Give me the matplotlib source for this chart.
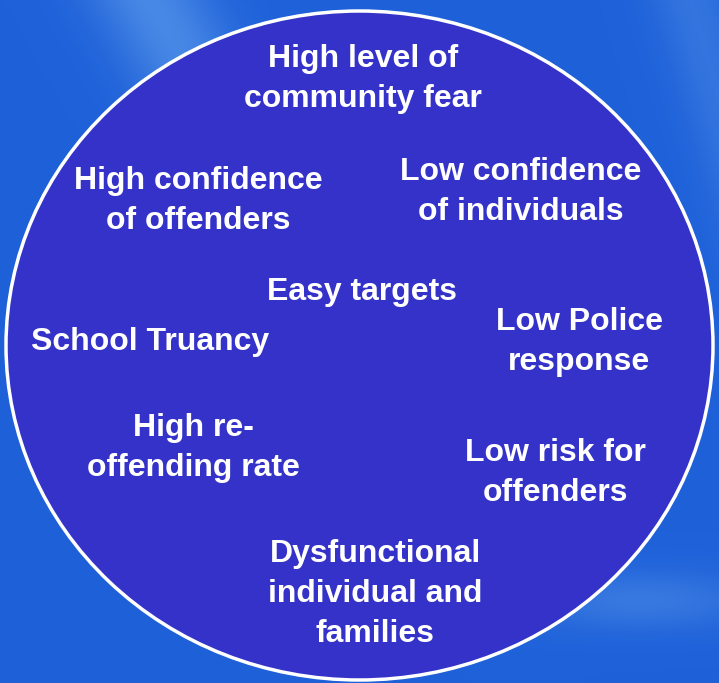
import numpy as np
import matplotlib.pyplot as plt
from matplotlib.patches import Ellipse

W, H = 719, 683

labels = ["High level of\ncommunity fear",
          "High confidence\nof offenders",
          "Low confidence\nof individuals",
          "Easy targets",
          "School Truancy",
          "Low Police\nresponse",
          "High re-\noffending rate",
          "Low risk for\noffenders",
          "Dysfunctional\nindividual and\nfamilies"]
label_x = [363, 198, 521, 362, 150, 579, 193, 555, 375]
label_y = [79, 201, 192, 292, 342, 342, 448, 473, 594]

fig = plt.figure(figsize=(W / 100, H / 100), dpi=100)
ax = fig.add_axes([0, 0, 1, 1])
ax.set_xlim(0, W)
ax.set_ylim(H, 0)
ax.axis('off')

# soft blue background with a few lighter diagonal streaks
yy, xx = np.mgrid[0:H, 0:W]
base = np.zeros((H, W, 3))
base[..., 0] = 0.12
base[..., 1] = 0.38
base[..., 2] = 0.85
streak = (np.exp(-((xx - 0.55 * yy - 150) / 60.0) ** 2) * np.exp(-(yy / 300.0) ** 2)
          + 0.6 * np.exp(-((yy - 600) / 30.0) ** 2) * np.exp(-((xx - 640) / 120.0) ** 2)
          + 0.5 * np.exp(-((xx - 0.3 * yy - 690) / 40.0) ** 2))
bright = np.array([0.35, 0.6, 0.92])
img = base + streak[..., None] * (bright - base) * 0.7
ax.imshow(np.clip(img, 0, 1), extent=(0, W, H, 0), zorder=0)

circle = Ellipse((359.5, 345.5), 707, 669, facecolor='#3432C8',
                 edgecolor='white', linewidth=2.5, zorder=1)
ax.add_patch(circle)

for text, x, y in zip(labels, label_x, label_y):
    ax.text(x, y, text, ha='center', va='center', color='white',
            fontsize=23, fontweight='bold', family='Liberation Sans',
            linespacing=1.42, zorder=2)

fig.savefig('out.png', dpi=100)
